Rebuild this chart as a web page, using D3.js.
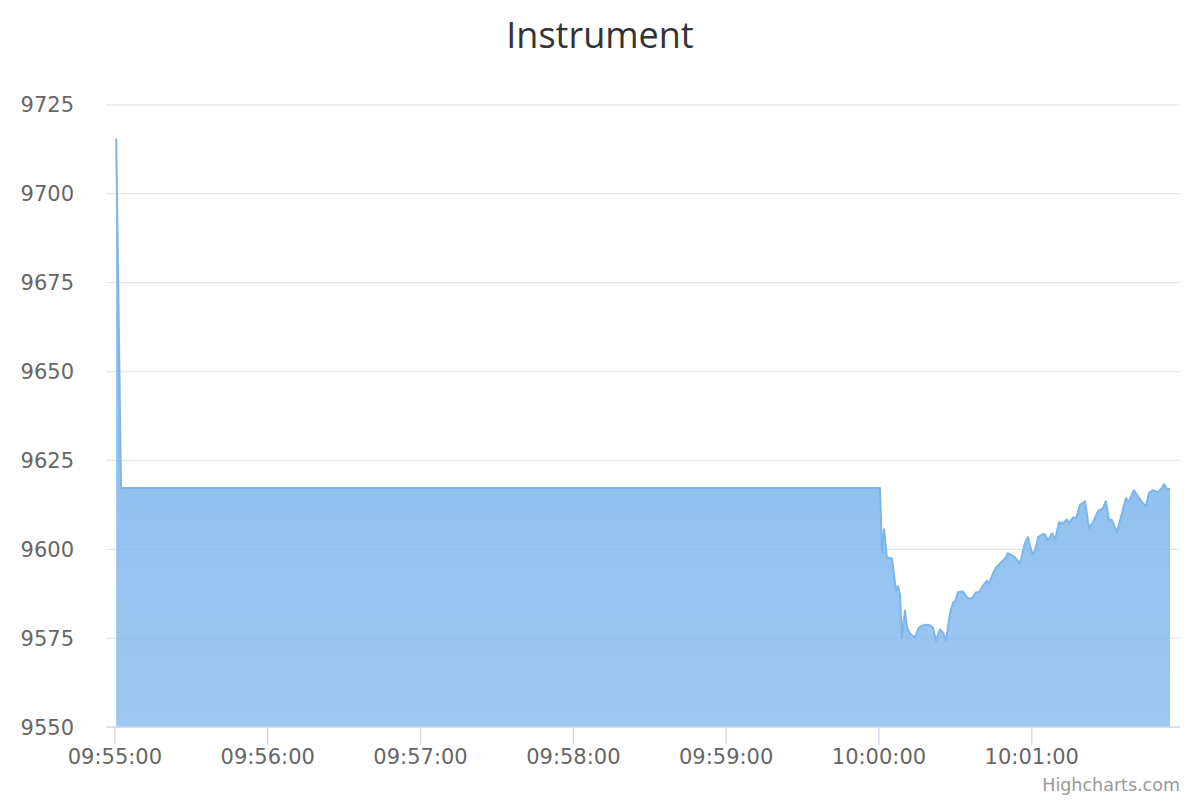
<!DOCTYPE html>
<html>
<head>
<meta charset="utf-8">
<script src="https://cdn.jsdelivr.net/npm/d3@7"></script>
<style>
  body { margin: 0; background: #fff; }
  svg { display: block; font-family: "DejaVu Sans", sans-serif; }
</style>
</head>
<body>
<div id="chart"></div>
<script>
var chartWidth = 1200,
  chartHeight = 800;

// data: seconds after 09:55:00 and price
var startTime = '09:55:00';
var seconds = [0.7, 2.6, 300.6, 301.4, 302.2, 303.3, 305.3, 306.9, 307.7, 308.5,
  309.2, 310.4, 311.2, 312.3, 314.3, 315.9, 318.2, 320.2, 321.4, 322.6,
  324.1, 325.3, 326.5, 328.1, 329.3, 330.1, 331.2, 333.2, 335.1, 336.7,
  338.3, 339.5, 341.1, 342.6, 343.4, 345.0, 346.1, 347.7, 349.7, 350.8,
  352.4, 353.6, 355.6, 357.5, 358.7, 360.4, 361.5, 362.7, 364.3, 365.4,
  366.6, 368.2, 369.4, 370.9, 372.5, 374.0, 374.8, 376.4, 377.6, 379.1,
  381.1, 382.7, 384.2, 386.2, 388.1, 389.3, 390.5, 391.7, 393.6, 395.6,
  397.2, 398.3, 400.3, 401.9, 403.9, 405.0, 406.2, 407.8, 409.7, 411.3,
  412.1, 413.3, 414.5];
var prices = [9715.4, 9617.1, 9617.1, 9599.0, 9605.5, 9597.6, 9597.3, 9588.3, 9589.5, 9586.9,
  9575.1, 9582.7, 9577.9, 9576.2, 9575.1, 9577.9, 9578.7, 9578.5, 9577.9, 9574.2,
  9577.3, 9576.5, 9574.2, 9581.8, 9584.9, 9585.2, 9587.8, 9588.0, 9586.1, 9586.1,
  9587.8, 9587.8, 9589.7, 9591.1, 9590.3, 9593.1, 9594.8, 9595.9, 9597.3, 9598.8,
  9598.2, 9597.6, 9595.9, 9601.6, 9603.3, 9598.5, 9599.6, 9603.3, 9604.1, 9604.1,
  9602.4, 9604.4, 9602.7, 9607.5, 9607.2, 9608.3, 9607.2, 9608.9, 9608.6, 9612.3,
  9613.4, 9605.8, 9607.5, 9610.6, 9611.4, 9613.4, 9608.3, 9608.1, 9604.7, 9610.0,
  9614.3, 9613.2, 9616.5, 9614.8, 9612.8, 9612.0, 9615.7, 9616.5, 9615.9, 9617.1,
  9618.2, 9616.8, 9616.8];

var xDomain = ['09:54:56.700', '10:01:58.400'];
var yTicks = [9550, 9575, 9600, 9625, 9650, 9675, 9700, 9725];
var xTicks = ['09:55:00', '09:56:00', '09:57:00', '09:58:00', '09:59:00', '10:00:00', '10:01:00'];

var parseTime = d3.timeParse('%H:%M:%S');
var parseMs = d3.timeParse('%H:%M:%S.%L');
var fmt = d3.timeFormat('%H:%M:%S');
var t0 = parseTime(startTime);

var data = seconds.map(function(s, i) {
  return { t: new Date(t0.getTime() + s * 1000), v: prices[i] };
});

var margin = { top: 104.3, right: 20, bottom: 73.3, left: 106 };
var plotW = chartWidth - margin.left - margin.right,
  plotH = chartHeight - margin.top - margin.bottom;

var x = d3.scaleTime()
  .domain(xDomain.map(parseMs))
  .range([0, plotW]);

var y = d3.scaleLinear()
  .domain([9550, 9725])
  .range([plotH, 0]);

var svg = d3.select('#chart').append('svg')
  .attr('width', chartWidth)
  .attr('height', chartHeight);

svg.append('text')
  .attr('x', chartWidth / 2)
  .attr('y', 48)
  .attr('text-anchor', 'middle')
  .attr('fill', '#333333')
  .style('font-family', '"Open Sans", sans-serif')
  .style('font-size', '36px')
  .text('Instrument');

var defs = svg.append('defs');
var grad = defs.append('linearGradient')
  .attr('id', 'areaFill')
  .attr('gradientUnits', 'userSpaceOnUse')
  .attr('x1', 0).attr('x2', 0)
  .attr('y1', 0).attr('y2', plotH);
grad.append('stop').attr('offset', 0).attr('stop-color', '#7cb5ec').attr('stop-opacity', 1);
grad.append('stop').attr('offset', 1).attr('stop-color', '#7cb5ec').attr('stop-opacity', 0.74);

var g = svg.append('g')
  .attr('transform', 'translate(' + margin.left + ',' + margin.top + ')');

// grid + y labels
var yAxis = d3.axisLeft(y)
  .tickValues(yTicks)
  .tickSize(-plotW)
  .tickFormat(d3.format('d'));

g.append('g')
  .attr('class', 'y-axis')
  .call(yAxis)
  .call(function(s) {
    s.select('.domain').remove();
    s.selectAll('.tick line').attr('stroke', '#e6e6e6').attr('stroke-width', 1.3);
    s.selectAll('.tick text')
      .attr('x', -32)
      .attr('dy', '0.35em')
      .attr('fill', '#666666')
      .style('font-size', '21px')
      .style('font-family', '"DejaVu Sans", sans-serif');
  });

var area = d3.area()
  .x(function(d) { return x(d.t); })
  .y0(plotH)
  .y1(function(d) { return y(d.v); });

var line = d3.line()
  .x(function(d) { return x(d.t); })
  .y(function(d) { return y(d.v); });

g.append('path')
  .datum(data)
  .attr('d', area)
  .attr('fill', 'url(#areaFill)');

g.append('path')
  .datum(data)
  .attr('d', line)
  .attr('fill', 'none')
  .attr('stroke', '#7cb5ec')
  .attr('stroke-width', 2)
  .attr('stroke-linejoin', 'round');

// x axis
var xAxis = d3.axisBottom(x)
  .tickValues(xTicks.map(parseTime))
  .tickSize(18)
  .tickSizeOuter(0)
  .tickFormat(fmt);

g.append('g')
  .attr('class', 'x-axis')
  .attr('transform', 'translate(0,' + plotH + ')')
  .call(xAxis)
  .call(function(s) {
    s.select('.domain').attr('stroke', '#ccd6eb').attr('stroke-width', 1.3);
    s.selectAll('.tick line').attr('stroke', '#ccd6eb').attr('stroke-width', 1.3);
    s.selectAll('.tick text')
      .attr('y', 22)
      .attr('dy', '0.71em')
      .attr('fill', '#666666')
      .style('font-size', '21px')
      .style('font-family', '"DejaVu Sans", sans-serif');
  });

svg.append('text')
  .attr('x', 1180)
  .attr('y', 791)
  .attr('text-anchor', 'end')
  .attr('fill', '#999999')
  .style('font-size', '17.5px')
  .text('Highcharts.com');
</script>
</body>
</html>
